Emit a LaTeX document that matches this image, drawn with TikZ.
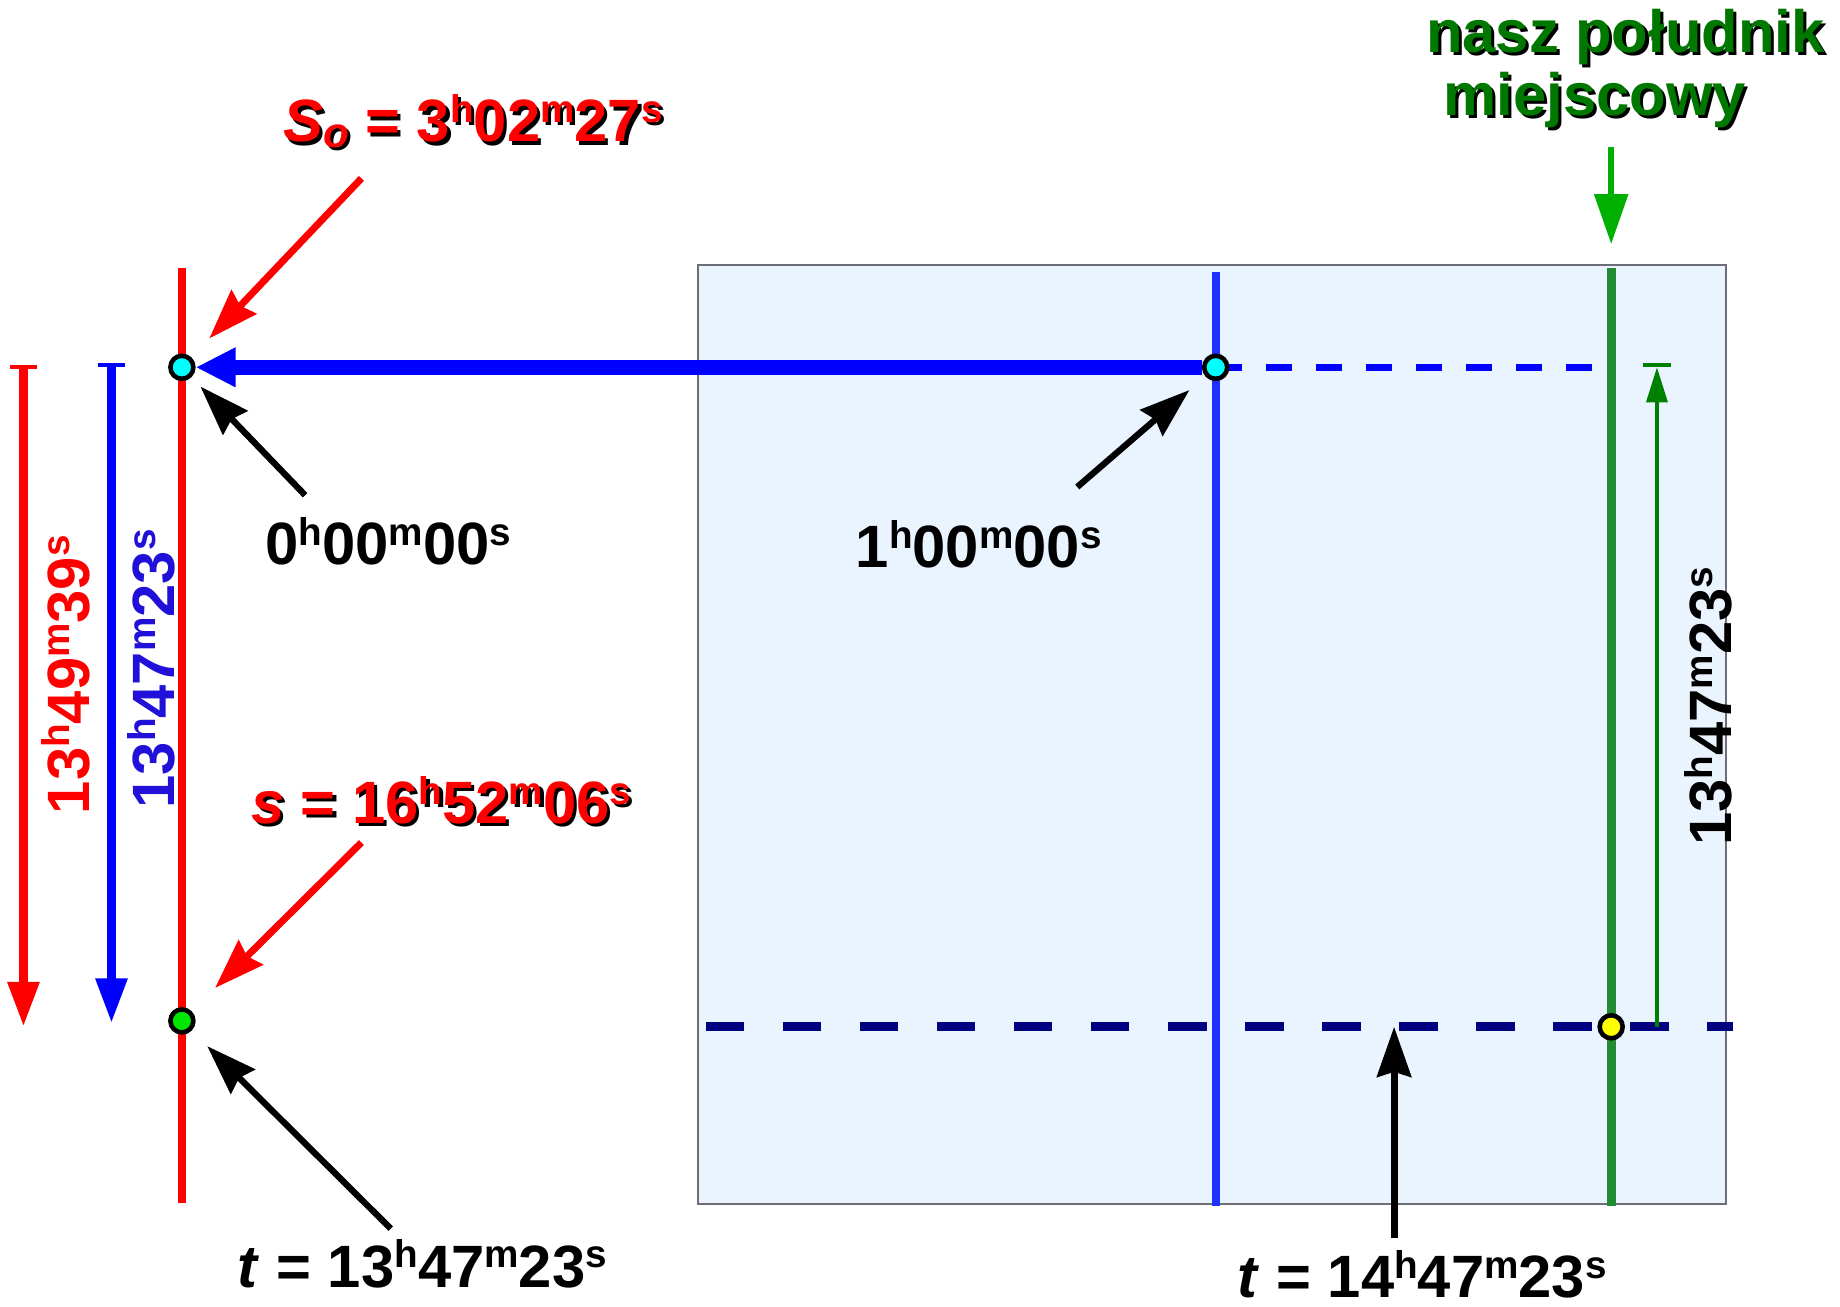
\documentclass[tikz,border=0pt]{standalone}
\usepackage{fontspec}
\setmainfont{Liberation Sans}
\usetikzlibrary{arrows.meta}

\definecolor{panelblue}{RGB}{234,244,254}
\definecolor{panelgray}{RGB}{110,110,120}
\definecolor{meridblue}{RGB}{32,48,255}
\definecolor{meridgreen}{RGB}{34,139,52}
\definecolor{arrowgreen}{RGB}{0,176,0}
\definecolor{dimgreen}{RGB}{0,128,0}
\definecolor{textgreen}{RGB}{0,120,0}
\definecolor{textblue}{RGB}{32,16,216}
\definecolor{navy}{RGB}{0,0,128}
\definecolor{dotcyan}{RGB}{0,255,255}
\definecolor{dotgreen}{RGB}{0,230,0}
\definecolor{dotyellow}{RGB}{255,255,0}

% small raised unit letters
\newcommand{\tsup}[1]{\raisebox{5.5pt}{\fontsize{11}{11}\selectfont #1}}
\newcommand{\hms}[3]{#1\tsup{h}#2\tsup{m}#3\tsup{s}}
% coloured text with a black drop shadow
\newcommand{\shadowlabel}[4]{%
  \node[lbl, black, xshift=0.9pt, yshift=-0.9pt] at (#2) {#4};
  \node[lbl, text=#3] (#1) at (#2) {#4};}

\begin{document}
\begin{tikzpicture}[x=0.011735cm, y=-0.011735cm,
    lbl/.style={inner sep=0pt, anchor=base, font=\fontsize{17}{20}\selectfont\bfseries},
    dot/.style={circle, draw=black, line width=1.3pt, inner sep=0pt, minimum size=0.23cm},
    tiparrow/.style={-{Stealth[length=0.5cm, width=0.34cm, inset=0.05cm]}},
    spanarrow/.style={line width=2.6pt, {Bar[width=0.27cm, line width=1.2pt]}-{Triangle[length=0.45cm, width=0.3cm]}}]
    \useasboundingbox (0,0) rectangle (1568,1113);

    % positions of the points
    \coordinate (zeroc) at (155,313);
    \coordinate (onec) at (1036,313);
    \coordinate (sdotc) at (155,870);
    \coordinate (tdotc) at (1373,875);

    % local meridian panel
    \draw[draw=panelgray, fill=panelblue, line width=0.6pt] (595,226) rectangle (1471,1026);

    % meridians
    \draw[red, line width=2.4pt] (155,228) -- (155,1025);
    \draw[meridblue, line width=2.4pt] (1036,232) -- (1036,1028);
    \draw[meridgreen, line width=2.6pt] (1373,228) -- (1373,1028);

    % level of the present moment
    \draw[navy, line width=2.5pt, dash pattern=on 0.385cm off 0.385cm] (601.6,875) -- (1477,875);

    % hour circle carried over to the left
    \coordinate (bend) at (1357.5,313);
    \draw[blue, line width=2pt, dash pattern=on 0.26cm off 0.24cm] (onec) -- (bend);

    % points
    \node[dot, fill=dotcyan] (zero) at (zeroc) {};
    \node[dot, fill=dotcyan] (one) at (onec) {};
    \node[dot, fill=dotgreen] (sdot) at (sdotc) {};
    \node[dot, fill=dotyellow] (tdot) at (tdotc) {};

    \draw[blue, line width=4.4pt, -{Triangle[length=0.4cm, width=0.37cm]}] (one.west) -- (zero.east);

    % spans on the left
    \coordinate (rtop) at (20,311);
    \coordinate (rbot) at (20,875);
    \coordinate (btop) at (95,309);
    \coordinate (bbot) at (95,872);
    \draw[red, spanarrow] (rtop) -- (rbot);
    \draw[blue, spanarrow] (btop) -- (bbot);
    \node[lbl, anchor=center, red, rotate=90] (rspan) at (56,575) {\hms{13}{49}{39}};
    \node[lbl, anchor=center, textblue, rotate=90] (bspan) at (129,570) {\hms{13}{47}{23}};

    % span on the right
    \coordinate (gtop) at (1412,313);
    \coordinate (gbot) at (1412,875);
    \coordinate (gtickl) at (1400,311);
    \coordinate (gtickr) at (1424,311);
    \draw[dimgreen, line width=1pt] (gtickl) -- (gtickr);
    \draw[dimgreen, line width=1pt, -{Triangle[length=0.35cm, width=0.21cm]}] (gbot) -- (gtop);
    \node[lbl, anchor=center, rotate=90] (gspan) at (1456,602) {\hms{13}{47}{23}};

    % local meridian label
    \shadowlabel{nasz}{1385,45}{textgreen}{nasz południk}
    \shadowlabel{miej}{1359,98}{textgreen}{miejscowy}
    \coordinate (mtop) at (1373,125);
    \coordinate (mtip) at (1373,208);
    \draw[arrowgreen, line width=1.6pt, -{Triangle[length=0.5cm, width=0.33cm]}] (mtop) -- (mtip);

    % sidereal times
    \shadowlabel{so}{403,121}{red}{\textit{S}\raisebox{-1.5pt}{\fontsize{12}{12}\selectfont\itshape o} = \hms{3}{02}{27}}
    \shadowlabel{sn}{376,702}{red}{\textit{s} = \hms{16}{52}{06}}
    \coordinate (a1) at (308,152);
    \coordinate (a4) at (308,718);
    \draw[red, line width=2pt, tiparrow, shorten >=0.26cm] (a1) -- (zero);
    \draw[red, line width=2pt, tiparrow, shorten >=0.33cm] (a4) -- (sdot);

    % hour angles and times
    \node[lbl] (hzero) at (331,481) {\hms{0}{00}{00}};
    \node[lbl] (hone) at (834,484) {\hms{1}{00}{00}};
    \node[lbl] (tone) at (360,1097) {\textit{t} = \hms{13}{47}{23}};
    \node[lbl] (ttwo) at (1212,1106) {\textit{t} = \hms{14}{47}{23}};
    \coordinate (a2) at (260,422);
    \coordinate (a3) at (918,415);
    \coordinate (a5) at (333,1047);
    \coordinate (a6) at (1188,1055);
    \coordinate (a6tip) at (1188,875);
    \draw[line width=1.8pt, tiparrow, shorten >=0.13cm] (a2) -- (zero);
    \draw[line width=1.8pt, tiparrow, shorten >=0.21cm] (a3) -- (one);
    \draw[line width=1.8pt, tiparrow, shorten >=0.22cm] (a5) -- (sdot);
    \draw[line width=2pt, tiparrow] (a6) -- (a6tip);
\end{tikzpicture}
\end{document}
